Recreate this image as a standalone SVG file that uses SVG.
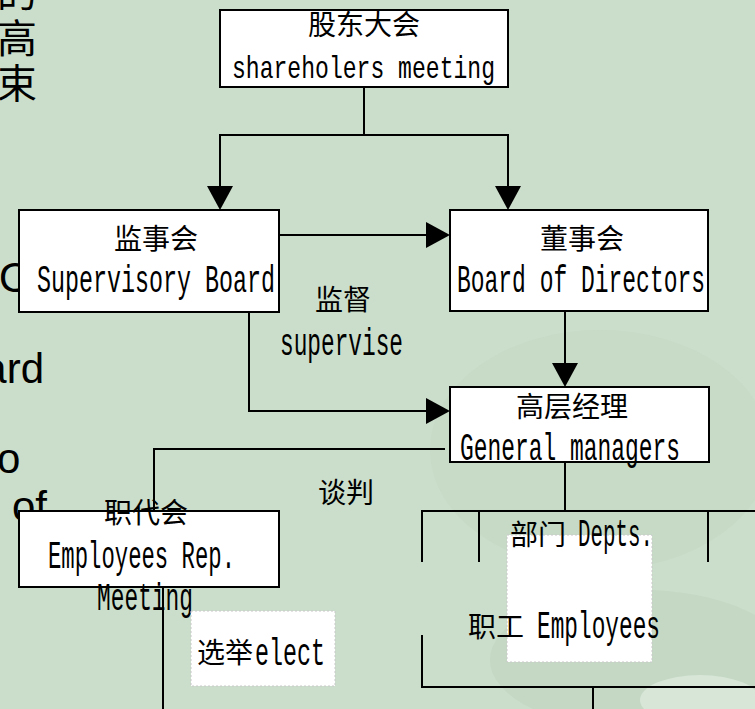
<svg xmlns="http://www.w3.org/2000/svg" width="755" height="709" viewBox="0 0 755 709">
<style>
.bg{fill:#cbdecb}
.box{fill:#fff;stroke:#000;stroke-width:2}
.note{fill:#fff;stroke:#c8c8c8;stroke-width:1;stroke-dasharray:2 2}
.ln{fill:none;stroke:#000;stroke-width:2}
.cjk{font-family:"Noto Sans CJK SC",sans-serif;font-size:28px;fill:#000}
.en{font-family:"Liberation Mono","DejaVu Sans Mono",monospace;font-size:38px;fill:#000}
.fr{font-family:"Liberation Sans",Arial,sans-serif;font-size:42px;fill:#000}
.frc{font-family:"Noto Sans CJK SC",serif;font-size:40px;fill:#000}
</style>
<defs>
<marker id="ah" viewBox="0 0 24 26" refX="14" refY="13" markerWidth="24" markerHeight="26" markerUnits="userSpaceOnUse" orient="auto">
<path d="M0,0 L24,13 L0,26 Z" fill="#000"/>
</marker>
</defs>
<rect class="bg" x="0" y="0" width="755" height="709"/>
<g opacity="0.5">
<ellipse cx="640" cy="660" rx="150" ry="70" fill="#bfd3bf"/>
<ellipse cx="700" cy="700" rx="60" ry="25" fill="#e4eee4"/>
<ellipse cx="600" cy="450" rx="170" ry="120" fill="#c3d8c3"/>
</g>

<g id="fragments">
<text class="frc" x="37" y="7" text-anchor="end">的</text>
<text class="frc" x="37" y="53" text-anchor="end">高</text>
<text class="frc" x="37" y="98" text-anchor="end">束</text>
<text class="fr" x="-1" y="292">O</text>
<text class="fr" x="44" y="383" text-anchor="end">ard</text>
<text class="fr" x="-3" y="473">o</text>
<text class="fr" x="47" y="521" text-anchor="end">of</text>
</g>

<g id="connectors">
<path class="ln" d="M364,87 V135 M220,135 H508"/>
<path class="ln" d="M220,134 V200" marker-end="url(#ah)"/>
<path class="ln" d="M508,134 V200" marker-end="url(#ah)"/>
<path class="ln" d="M279,235 H440" marker-end="url(#ah)"/>
<path class="ln" d="M565,311 V377" marker-end="url(#ah)"/>
<path class="ln" d="M249,312 V411 H440" marker-end="url(#ah)"/>
<path class="ln" d="M445,449 H154 V511"/>
<path class="ln" d="M163,585 V709"/>
<path class="ln" d="M565,462 V511 M421,511 H755 M422,511 V562 M479,511 V562 M708,511 V562"/>
<path class="ln" d="M422,635 V687 H755 M593,687 V709"/>
</g>

<g id="shareholders">
<rect class="box" x="220" y="10" width="288" height="77"/>
<text class="cjk" x="364" y="35" text-anchor="middle">股东大会</text>
<text class="en" x="232" y="78" style="font-size:32px" textLength="263" lengthAdjust="spacingAndGlyphs">shareholers meeting</text>
</g>

<g id="supervisory">
<rect class="box" x="19" y="210" width="260" height="102"/>
<text class="cjk" x="156" y="249" text-anchor="middle">监事会</text>
<text class="en" x="37" y="292" textLength="238" lengthAdjust="spacingAndGlyphs">Supervisory Board</text>
</g>

<g id="directors">
<rect class="box" x="450" y="210" width="258" height="101"/>
<text class="cjk" x="582" y="249" text-anchor="middle">董事会</text>
<text class="en" x="457" y="292" textLength="248" lengthAdjust="spacingAndGlyphs">Board of Directors</text>
</g>

<g id="supervise-label">
<text class="cjk" x="343" y="310" text-anchor="middle">监督</text>
<text class="en" x="280" y="355" textLength="123" lengthAdjust="spacingAndGlyphs">supervise</text>
</g>

<g id="managers">
<rect class="box" x="450" y="387" width="259" height="75"/>
<text class="cjk" x="572" y="417" text-anchor="middle">高层经理</text>
<text class="en" x="460" y="460" textLength="220" lengthAdjust="spacingAndGlyphs">General managers</text>
</g>

<g id="negotiate-label">
<text class="cjk" x="346" y="503" text-anchor="middle">谈判</text>
</g>

<g id="employees-rep">
<rect class="box" x="19" y="511" width="260" height="76"/>
<text class="cjk" x="146" y="523" text-anchor="middle">职代会</text>
<text class="en" x="48" y="568" textLength="187" lengthAdjust="spacingAndGlyphs">Employees Rep.</text>
<text class="en" x="97" y="610" textLength="96" lengthAdjust="spacingAndGlyphs">Meeting</text>
</g>

<g id="elect">
<rect class="note" x="191" y="611" width="144" height="75"/>
<text class="cjk" x="197" y="663">选举</text>
<text class="en" x="255" y="665" textLength="70" lengthAdjust="spacingAndGlyphs">elect</text>
</g>

<g id="depts">
<rect class="note" x="507" y="535" width="145" height="127"/>
<text class="cjk" x="510" y="545">部门</text>
<text class="en" x="578" y="546" textLength="75" lengthAdjust="spacingAndGlyphs">Depts.</text>
<text class="cjk" x="468" y="637">职工</text>
<text class="en" x="537" y="638" textLength="123" lengthAdjust="spacingAndGlyphs">Employees</text>
</g>
</svg>
